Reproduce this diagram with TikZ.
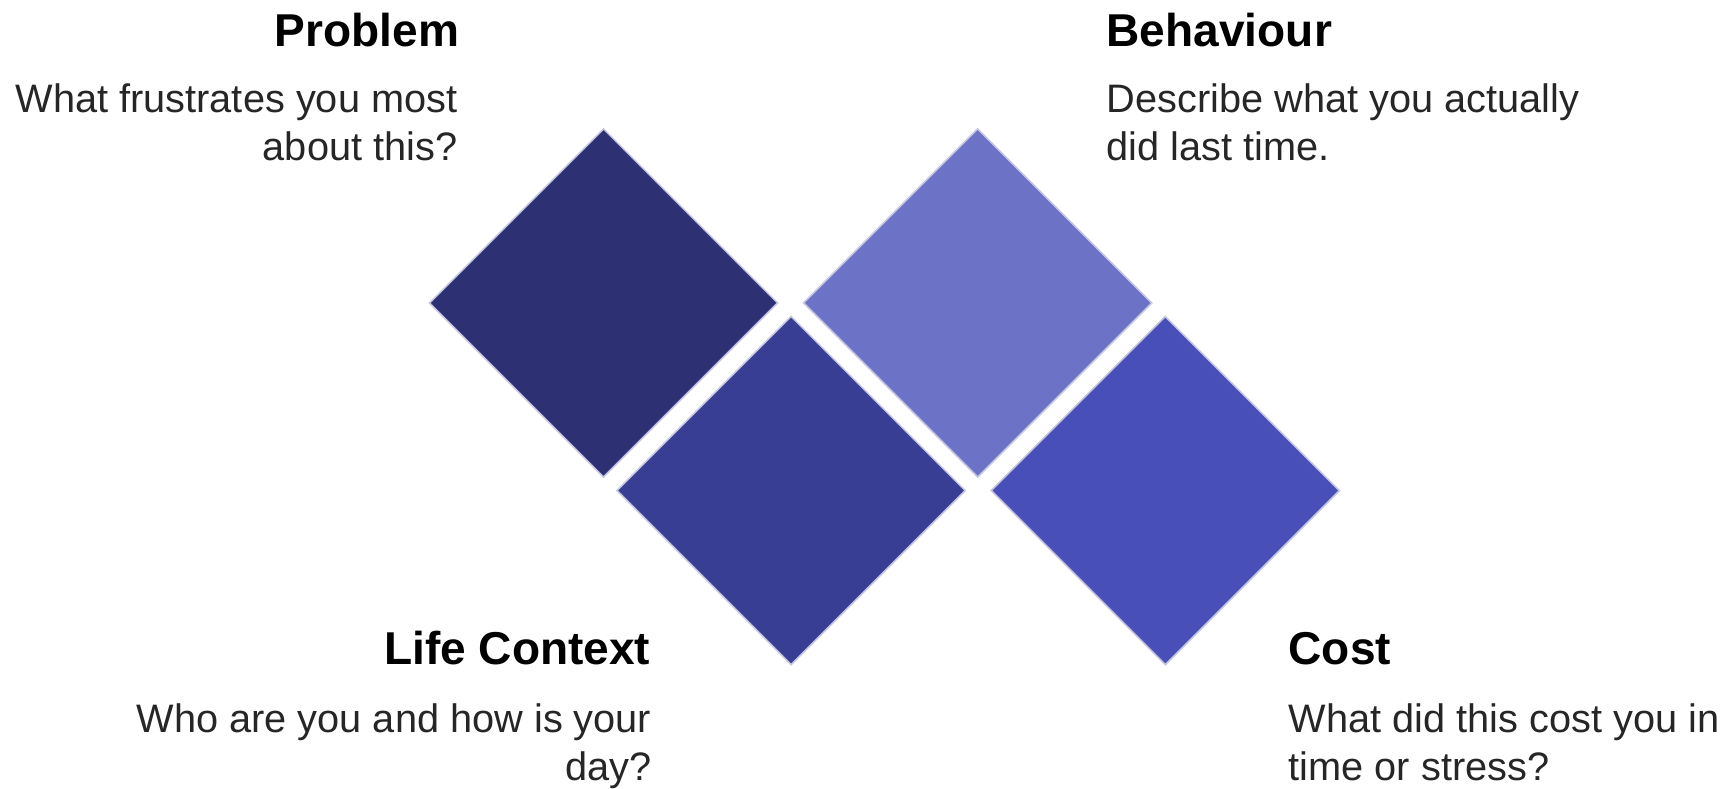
\documentclass[tikz,border=0pt]{standalone}
\usepackage{fontspec}
\setmainfont{Liberation Sans}
\usetikzlibrary{positioning,shapes.geometric}
\definecolor{cnavy}{RGB}{45,49,115}
\definecolor{cindigo}{RGB}{57,62,149}
\definecolor{clavender}{RGB}{108,114,198}
\definecolor{cblue}{RGB}{72,79,184}
\definecolor{cedge}{RGB}{196,197,224}
\definecolor{ctext}{RGB}{38,38,38}

\begin{document}
\begin{tikzpicture}[x=0.01cm, y=-0.01cm,
    tile/.style={diamond, draw=cedge, line width=0.45pt, minimum size=3.48cm, inner sep=0, outer sep=0},
    heading/.style={font=\fontsize{13.1}{15}\selectfont\bfseries, inner sep=0},
    prompt/.style={font=\fontsize{11.3}{13.7}\selectfont, text=ctext, inner sep=0}]
    \useasboundingbox (0,0) rectangle (1730,789);

    % the four tiles
    \node[tile, fill=cnavy] (Problem) at (603.5,303) {};
    \node[tile, fill=clavender] (Behaviour) [right=0.26cm of Problem] {};
    \node[tile, fill=cindigo] (Life) [below right=0.135cm and 0.135cm of Problem] {};
    \node[tile, fill=cblue] (Cost) [right=0.26cm of Life] {};

    % headings and questions (base anchor sits on the last line)
    \node[heading, anchor=base east] (ProblemTitle) at (460,47) {Problem};
    \node[prompt, align=right, anchor=base east] (ProblemText) at (458,161) {What frustrates you most\\about this?};

    \node[heading, anchor=base west] (BehaviourTitle) at (1106,47) {Behaviour};
    \node[prompt, align=left, anchor=base west] (BehaviourText) at (1106,161) {Describe what you actually\\did last time.};

    \node[heading, anchor=base east] (LifeTitle) at (651,665) {Life Context};
    \node[prompt, align=right, anchor=base east] (LifeText) at (652,781) {Who are you and how is your\\day?};

    \node[heading, anchor=base west] (CostTitle) at (1288,665) {Cost};
    \node[prompt, align=left, anchor=base west] (CostText) at (1288,781) {What did this cost you in\\time or stress?};
  \end{tikzpicture}
\end{document}
